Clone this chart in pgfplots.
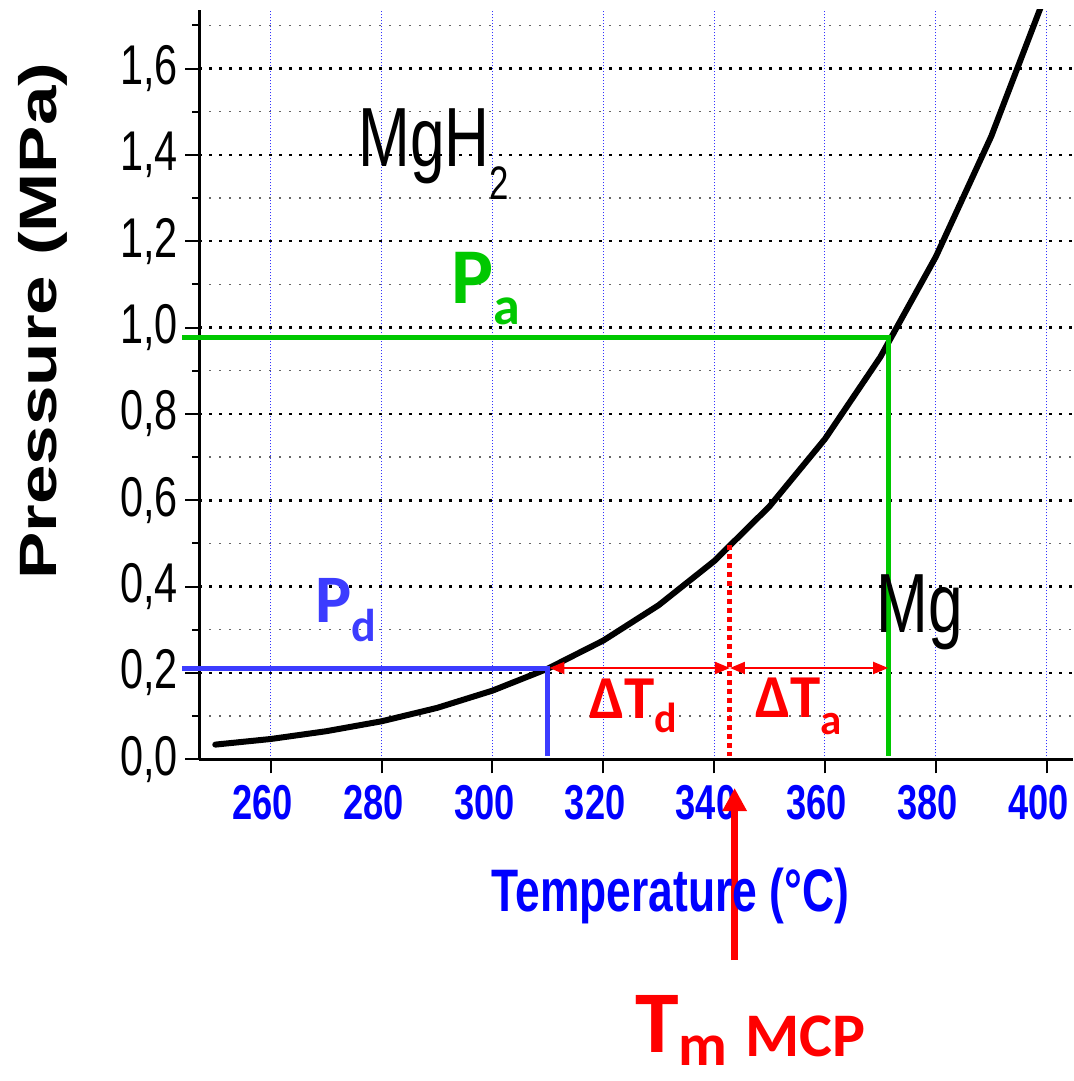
\documentclass[border=0pt]{standalone}
\usepackage{pgfplots}
\pgfplotsset{compat=1.18}
\usetikzlibrary{arrows.meta}
\usepackage{graphicx}
\usepackage{fontspec}
\setmainfont{Liberation Sans}
\newfontfamily\calib{Carlito}
\definecolor{myblue}{RGB}{60,60,255}
\definecolor{mygreen}{RGB}{0,200,0}
\definecolor{tickblue}{RGB}{0,0,255}
\begin{document}
\begin{tikzpicture}[x=1pt,y=1pt]
\useasboundingbox (0,0) rectangle (1073,1081);
\begin{axis}[
  at={(199.3pt,321.7pt)}, anchor=south west,
  scale only axis, width=873.7pt, height=749.3pt,
  xmin=247.12, xmax=404.75, ymin=0, ymax=1.7357,
  axis x line=bottom, axis y line=left,
  axis line style={-, line width=3pt, black},
  clip mode=individual,
  xtick={260,280,300,320,340,360,380,400},
  xticklabels={260,280,300,320,340,360,380,400},
  ytick={0,0.2,0.4,0.6,0.8,1.0,1.2,1.4,1.6},
  yticklabels={{0,0},{0,2},{0,4},{0,6},{0,8},{1,0},{1,2},{1,4},{1,6}},
  minor ytick={0.1,0.3,0.5,0.7,0.9,1.1,1.3,1.5,1.7},
  minor xtick={},
  tick align=outside,
  major tick length=14pt, minor tick length=7pt,
  tick style={black, line width=2pt},
  xmajorgrids=true, ymajorgrids=true, yminorgrids=true,
  major x grid style={tickblue!80, line width=1pt, dash pattern=on 1pt off 2pt},
  major y grid style={black, line width=2.5pt, dash pattern=on 2.5pt off 7.5pt},
  minor y grid style={black!60, line width=1.3pt, dash pattern=on 1.3pt off 8.7pt},
  yticklabel style={font=\fontsize{56}{56}\selectfont, xscale=0.74, anchor=east, inner sep=0pt, xshift=-10pt},
  xticklabel style={font=\bfseries\fontsize{49}{49}\selectfont, text=tickblue, xscale=0.74, anchor=north, inner sep=0pt, xshift=-11pt, yshift=-12pt},
]
\addplot[black, line width=6pt, line join=round, line cap=round] coordinates {
(250,0.034) (260,0.047) (270,0.065) (280,0.088) (290,0.119) (300,0.159)
(310,0.210) (320,0.275) (330,0.357) (340,0.459) (350,0.586) (360,0.742)
(370,0.932) (380,1.164) (390,1.443) (400,1.778)};
\addplot[myblue, line width=5pt, clip=false] coordinates {(244.0,0.2108) (310,0.2108) (310,0.0076)};
\addplot[mygreen, line width=5pt, clip=false] coordinates {(244.0,0.976) (371.55,0.976) (371.55,0.0076)};
\addplot[red, line width=5pt, dash pattern=on 5pt off 4pt] coordinates {(342.86,0.4964) (342.86,0.0076)};
\addplot[red, line width=2pt, {Triangle[length=15pt,width=12pt]}-{Triangle[length=15pt,width=12pt]}] coordinates {(310.3,0.2115) (342.86,0.2115)};
\addplot[red, line width=2pt, {Triangle[length=15pt,width=12pt]}-{Triangle[length=15pt,width=12pt]}] coordinates {(342.86,0.2115) (371.4,0.2115)};
\addplot[red, line width=7pt, -{Triangle[length=23pt,width=23pt]}, clip=false] coordinates {(343.7,-0.465) (343.7,-0.0665)};
\end{axis}
\node[anchor=base west, inner sep=0pt, xscale=0.74, font=\fontsize{84}{84}\selectfont] at (358.5,914.3) {MgH\raisebox{-33pt}{\fontsize{47}{47}\selectfont 2}};
\node[anchor=base west, inner sep=0pt, xscale=0.74, font=\fontsize{84}{84}\selectfont] at (876.1,448.3) {Mg};
\node[anchor=base west, inner sep=0pt, text=mygreen, font=\calib\bfseries\fontsize{79}{79}\selectfont] at (451,777) {P\raisebox{-21pt}{\fontsize{54}{54}\selectfont a}};
\node[anchor=base west, inner sep=0pt, text=myblue, font=\calib\bfseries\fontsize{68}{68}\selectfont] at (315.3,458) {P\raisebox{-19pt}{\fontsize{46}{46}\selectfont d}};
\node[anchor=base west, inner sep=0pt, text=red, font=\calib\bfseries\fontsize{61}{61}\selectfont] at (589,362.7) {ΔT\raisebox{-14pt}{\fontsize{42}{42}\selectfont d}};
\node[anchor=base west, inner sep=0pt, text=red, font=\calib\bfseries\fontsize{61}{61}\selectfont] at (755,363) {ΔT\raisebox{-17pt}{\fontsize{43}{43}\selectfont a}};
\node[anchor=base west, inner sep=0pt, text=red, font=\calib\bfseries\fontsize{88}{88}\selectfont] at (635,28) {T\raisebox{-12pt}{\fontsize{60}{60}\selectfont m}};
\node[anchor=base west, inner sep=0pt, text=red, font=\calib\bfseries\fontsize{62}{62}\selectfont] at (745,24) {MCP};
\node[rotate=90, anchor=base, inner sep=0pt, font=\bfseries\fontsize{71}{71}\selectfont] at (56,760) {\scalebox{1}[0.74]{Pressure (MPa)}};
\node[anchor=base, inner sep=0pt, xscale=0.74, text=tickblue, font=\bfseries\fontsize{60}{60}\selectfont] at (670.5,169.3) {Temperature (°C)};
\end{tikzpicture}
\end{document}
